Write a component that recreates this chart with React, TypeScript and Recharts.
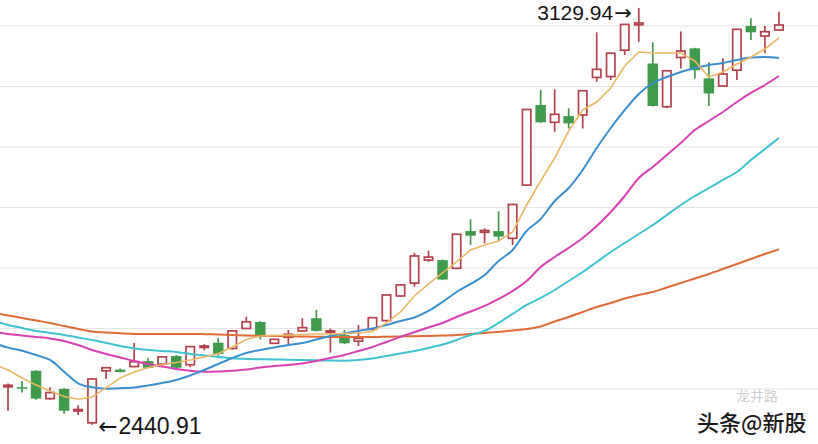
import React from "react"
import { ComposedChart, Bar, Line, XAxis, YAxis, CartesianGrid, ReferenceDot } from "recharts"

// K线: 开高低收 (56 根)
const opens = [
  2504, 2503, 2530, 2484, 2500, 2464, 2444, 2530, 2532, 2537,
  2546, 2541, 2554.5, 2540, 2569, 2576.5, 2567, 2600, 2610.7, 2575.5,
  2585.5, 2596, 2617, 2594, 2589, 2579, 2598.5, 2613, 2653.7, 2675,
  2713, 2713, 2699.5, 2761, 2759, 2761, 2749, 2837, 2969.4, 2940.8,
  2951, 2952.9, 3015, 3016.5, 3060, 3102, 3038, 2966.6, 3048, 3063,
  3013.4, 3000.8, 3027, 3100, 3083.5, 3093.4,
]
const highs = [
  2509, 2513, 2531, 2503, 2501, 2473, 2518, 2535.5, 2534, 2576,
  2551, 2554, 2556, 2571, 2574, 2584, 2597, 2619.5, 2612, 2583,
  2597.5, 2617, 2630.5, 2600, 2597.5, 2605.8, 2618, 2656, 2673, 2725,
  2728.6, 2714, 2756, 2780.5, 2765.6, 2794, 2806, 2963, 2994.5, 2995.4,
  2964, 2994, 3089.6, 3056, 3103, 3129.94, 3073, 3027, 3091, 3064,
  3040, 3046.6, 3095, 3112.7, 3100, 3123.6,
]
const lows = [
  2464, 2494, 2482, 2482, 2459, 2457, 2440.91, 2516.5, 2527, 2536,
  2534, 2536, 2534, 2536, 2564, 2555, 2565, 2599, 2582, 2574,
  2571, 2595, 2595, 2560, 2574, 2571, 2597, 2611, 2652, 2669,
  2710, 2680, 2698, 2738, 2740.8, 2743.5, 2738, 2836, 2940, 2925,
  2930.6, 2930.6, 3008, 3010.8, 3052, 3074, 2967, 2964, 3030, 3013,
  2967.6, 3000, 3010.8, 3077, 3054.8, 3093,
]
const closes = [
  2506, 2501, 2484, 2494, 2464, 2466, 2516.5, 2535, 2528, 2545,
  2535, 2553, 2535, 2570, 2571, 2558, 2596, 2611, 2586, 2582,
  2590.4, 2601.3, 2596, 2596, 2575.5, 2583.7, 2617.8, 2655.4, 2672, 2719.8,
  2718, 2681, 2755.7, 2753.4, 2762, 2752, 2805, 2962, 2940.8, 2954,
  2939, 2993, 3028.4, 3055, 3102.6, 3105, 2967.8, 3026, 3058.7, 3027,
  2988.5, 3020.7, 3094.5, 3089.6, 3090.6, 3101.7,
]

// 均线 (从图左缘前一根开始, 57 个)
const ma5 = [
  2541.3, 2531.4, 2518.2, 2506.6, 2496.7, 2487.6, 2483.0, 2486.8, 2501.7, 2518.2,
  2528.1, 2535.5, 2540.5, 2543.8, 2547.9, 2552.9, 2558.7, 2569.4, 2581.8, 2587.6,
  2588.4, 2589.3, 2590.1, 2590.9, 2590.9, 2591.7, 2592.6, 2595.0, 2609.1, 2627.3,
  2653.7, 2673.6, 2691.7, 2709.9, 2729.8, 2738.0, 2744.6, 2759.5, 2804.1, 2843.8,
  2881.8, 2926.4, 2961.2, 2974.4, 2997.5, 3033.9, 3057.0, 3055.4, 3055.4, 3055.4,
  3042.2, 3015.7, 3024.0, 3037.2, 3048.8, 3062.0, 3080.2,
]
const ma10 = [
  2576.0, 2568.3, 2563.3, 2556.2, 2547.9, 2528.6, 2509.4, 2502.8, 2500.5, 2501.2,
  2502.5, 2505.8, 2509.9, 2514.9, 2522.3, 2531.4, 2541.3, 2551.2, 2559.5, 2564.5,
  2568.6, 2572.7, 2576.0, 2581.8, 2587.6, 2591.7, 2595.9, 2600.0, 2605.8, 2612.4,
  2618.2, 2628.9, 2643.8, 2660.3, 2673.6, 2688.4, 2711.6, 2729.8, 2761.2, 2781.0,
  2810.7, 2832.2, 2862.0, 2898.3, 2931.4, 2961.2, 2987.6, 3005.8, 3015.7, 3024.0,
  3030.6, 3035.5, 3038.8, 3043.8, 3047.9, 3048.8, 3047.1,
]
const ma20 = [
  2594.2, 2590.9, 2588.4, 2586.0, 2583.5, 2579.3, 2572.7, 2564.5, 2557.9, 2552.1,
  2546.3, 2541.3, 2537.2, 2533.1, 2530.1, 2528.6, 2528.9, 2530.2, 2532.2, 2535.5,
  2538.0, 2539.7, 2542.1, 2546.3, 2551.2, 2556.2, 2562.8, 2569.4, 2577.7, 2586.0,
  2594.2, 2601.7, 2609.1, 2619.0, 2628.1, 2637.2, 2648.8, 2662.0, 2678.5, 2701.7,
  2718.2, 2733.1, 2749.6, 2769.4, 2792.6, 2819.0, 2848.8, 2866.9, 2886.8, 2906.6,
  2928.1, 2943.0, 2957.9, 2974.4, 2989.3, 3002.5, 3017.4,
]
const ma30 = [
  2612.4, 2605.8, 2600.8, 2595.9, 2592.6, 2589.3, 2585.1, 2581.0, 2576.0, 2571.1,
  2566.9, 2564.5, 2562.8, 2561.2, 2557.9, 2555.4, 2552.9, 2550.7, 2549.6, 2549.1,
  2548.8, 2548.3, 2547.9, 2547.4, 2546.9, 2546.8, 2547.9, 2550.4, 2554.5, 2558.7,
  2562.8, 2567.8, 2573.6, 2581.0, 2589.3, 2595.9, 2609.1, 2624.0, 2638.8, 2650.4,
  2663.6, 2678.5, 2693.4, 2709.9, 2726.4, 2741.3, 2756.2, 2771.1, 2787.6, 2804.1,
  2819.0, 2832.2, 2845.5, 2858.7, 2878.5, 2896.7, 2914.9,
]
const ma60 = [
  2625.6, 2621.5, 2617.4, 2613.2, 2609.1, 2604.1, 2599.2, 2595.0, 2593.4, 2592.1,
  2590.9, 2590.9, 2590.9, 2590.9, 2590.9, 2590.6, 2590.1, 2589.3, 2588.4, 2587.9,
  2587.6, 2587.1, 2586.8, 2586.4, 2586.0, 2586.0, 2586.0, 2586.0, 2586.3, 2586.8,
  2587.3, 2587.6, 2588.3, 2589.3, 2590.9, 2592.6, 2594.2, 2596.7, 2599.2, 2603.3,
  2611.6, 2619.0, 2627.3, 2635.5, 2642.2, 2649.6, 2655.4, 2660.3, 2667.8, 2675.2,
  2682.6, 2690.1, 2698.3, 2706.6, 2714.9, 2723.1, 2730.9,
]

const gridValues = [2500, 2600, 2700, 2800, 2900, 3000, 3100]
const highMark = { day: 45, price: 3129.94, label: "3129.94" }
const lowMark = { day: 6, price: 2440.91, label: "2440.91" }

const RED = "#b2434e"
const GREEN = "#3f9a4c"

// 前面多一格给均线起点, 后面留几格空白让网格线铺满
const days = Array.from({ length: 60 }, (_, k) => k - 1)
const data = days.map((d) => {
  const row: any = { day: d }
  if (d >= 0 && d < opens.length) {
    row.o = opens[d]
    row.h = highs[d]
    row.l = lows[d]
    row.c = closes[d]
    row.range = [lows[d], highs[d]]
  }
  if (d + 1 < ma5.length) {
    row.ma5 = ma5[d + 1]
    row.ma10 = ma10[d + 1]
    row.ma20 = ma20[d + 1]
    row.ma30 = ma30[d + 1]
    row.ma60 = ma60[d + 1]
  }
  return row
})

const Candle = (props: any) => {
  const { x, y, width, height, payload } = props
  if (!payload || payload.o == null) return null
  const { o, h, l, c } = payload
  const top0 = Math.min(y, y + height)
  const span = Math.abs(height)
  const ratio = span / (h - l)
  const cx = x + width / 2
  const yOf = (v: number) => top0 + (h - v) * ratio
  const up = c >= o
  const color = up ? RED : GREEN
  const top = yOf(Math.max(o, c))
  const bh = Math.max(yOf(Math.min(o, c)) - top, 1.5)
  const bw = up ? 8.4 : 10.5
  return (
    <g>
      <line x1={cx} x2={cx} y1={top0} y2={top0 + span} stroke={color} strokeWidth={1.7} />
      <rect
        x={cx - bw / 2}
        y={top}
        width={bw}
        height={bh}
        fill={up ? "#fff" : GREEN}
        stroke={up ? color : "none"}
        strokeWidth={up ? 1.7 : 0}
      />
    </g>
  )
}

const arrowFont = "'DejaVu Sans', sans-serif"
const numFont = "'Liberation Sans', Arial, sans-serif"

// 最高点: 数字在左, 箭头指向右
const HighLabel = (props: any) => {
  const { cx, cy } = props
  return (
    <text x={cx - 7} y={cy + 12} textAnchor="end" fontSize={21} fill="#151515" fontFamily={numFont}>
      {highMark.label}
      <tspan fontFamily={arrowFont} dx={1}>→</tspan>
    </text>
  )
}

// 最低点: 箭头在左指回K线
const LowLabel = (props: any) => {
  const { cx, cy } = props
  return (
    <text x={cx + 6} y={cy + 9} textAnchor="start" fontSize={23} fill="#151515" fontFamily={numFont}>
      <tspan fontFamily={arrowFont}>←</tspan>
      <tspan dx={1}>{lowMark.label}</tspan>
    </text>
  )
}

export default function App() {
  return (
    <div
      style={{
        position: "absolute",
        left: 0,
        top: 0,
        width: 818,
        height: 444,
        overflow: "hidden",
        background: "#fff",
      }}
    >
      <div style={{ position: "absolute", left: -13, top: 0 }}>
        <ComposedChart width={841} height={444} data={data} margin={{ top: 0, right: 0, bottom: 0, left: 0 }}>
          <CartesianGrid vertical={false} stroke="#e4e4e4" horizontalValues={gridValues} />
          <XAxis dataKey="day" hide />
          <YAxis hide domain={[2409, 3143]} ticks={gridValues} allowDataOverflow />
          <Bar dataKey="range" barSize={10} shape={<Candle />} isAnimationActive={false} />
          <Line type="monotone" dataKey="ma60" stroke="#e06b35" strokeWidth={2} dot={false} isAnimationActive={false} />
          <Line type="monotone" dataKey="ma30" stroke="#3fc3cf" strokeWidth={2} dot={false} isAnimationActive={false} />
          <Line type="monotone" dataKey="ma20" stroke="#d940b2" strokeWidth={2} dot={false} isAnimationActive={false} />
          <Line type="monotone" dataKey="ma10" stroke="#3a8fd0" strokeWidth={2} dot={false} isAnimationActive={false} />
          <Line type="linear" dataKey="ma5" stroke="#ebb865" strokeWidth={1.6} dot={false} isAnimationActive={false} />
          <ReferenceDot x={highMark.day} y={highMark.price} r={0} shape={<HighLabel />} />
          <ReferenceDot x={lowMark.day} y={lowMark.price} r={0} shape={<LowLabel />} />
        </ComposedChart>
      </div>
      <svg width={818} height={444} style={{ position: "absolute", left: 0, top: 0, pointerEvents: "none" }}>
        <text
          x={736}
          y={401}
          fontSize={14}
          fontFamily="'Noto Sans CJK SC', sans-serif"
          fill="#cfcfcf"
        >
          龙井路
        </text>
        <text
          x={697}
          y={431}
          fontSize={22}
          fontWeight={500}
          fontFamily="'Noto Sans CJK SC', sans-serif"
          fill="#1a1a1a"
          stroke="#fff"
          strokeWidth={3}
          style={{ paintOrder: "stroke" }}
        >
          头条@新股
        </text>
      </svg>
    </div>
  )
}
